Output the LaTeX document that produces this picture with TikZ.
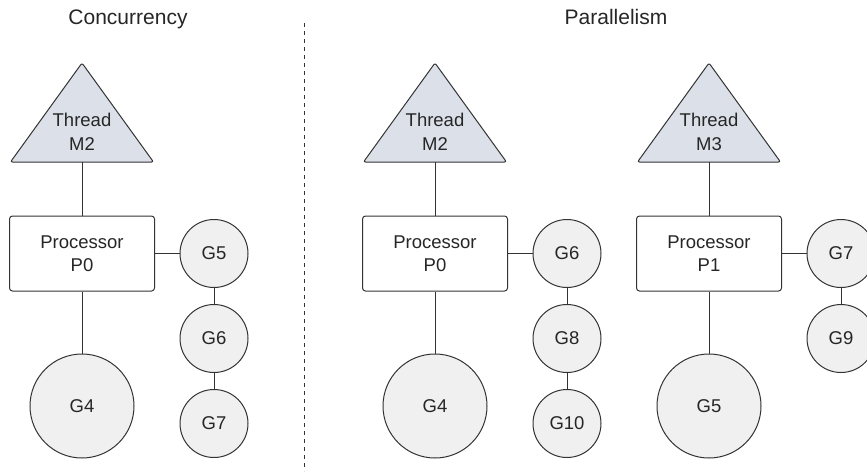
\documentclass[tikz,border=0pt]{standalone}
\usepackage{fontspec}
\setmainfont{Liberation Sans}
\definecolor{thrfill}{HTML}{DCE1E9}
\definecolor{gfill}{HTML}{F0F0F0}
\definecolor{edge}{HTML}{333333}
\tikzset{
  proc/.style={draw=edge, fill=white, rounded corners=3pt, minimum width=145pt, minimum height=75pt, align=center, inner sep=0pt},
  gor/.style={circle, draw=edge, fill=gfill, minimum size=68pt, inner sep=0pt},
  gbig/.style={gor, minimum size=104pt},
  thr/.style={draw=edge, fill=thrfill, rounded corners=2pt, line join=round},
  link/.style={draw=edge},
  title/.style={anchor=base, font=\fontsize{21}{25}\selectfont}
}
\begin{document}
\begin{tikzpicture}[x=1pt,y=-1pt,line width=1pt,text=black!85,font=\fontsize{18.5}{23.5}\selectfont]
\useasboundingbox (0,0) rectangle (867,471);
\clip (0,0) rectangle (867,471);
\node[title] (tconc) at (128,24) {Concurrency};
\node[title] (tpar) at (616,24) {Parallelism};
\draw[edge,dash pattern=on 4pt off 4pt] (304,23) -- (304,471);
\draw[thr] (10.5,162) -- (82,63) -- (153.5,162) -- cycle;
\node[align=center] (m2a) at (82,132) {Thread\\M2};
\coordinate (m2abase) at (82,162);
\draw[thr] (363.5,162) -- (435,63) -- (506.5,162) -- cycle;
\node[align=center] (m2b) at (435,132) {Thread\\M2};
\coordinate (m2bbase) at (435,162);
\draw[thr] (637.5,162) -- (709,63) -- (780.5,162) -- cycle;
\node[align=center] (m3) at (709,132) {Thread\\M3};
\coordinate (m3base) at (709,162);
\node[proc] (p0a) at (82,253.5) {Processor\\P0};
\node[proc] (p0b) at (435,253.5) {Processor\\P0};
\node[proc] (p1) at (709,253.5) {Processor\\P1};
\draw[link] (m2abase) -- (p0a);
\draw[link] (m2bbase) -- (p0b);
\draw[link] (m3base) -- (p1);
\node[gbig] (g4a) at (82,406) {G4};
\node[gor] (g5a) at (214,253.5) {G5};
\node[gor] (g6a) at (214,338.5) {G6};
\node[gor] (g7a) at (214,423.5) {G7};
\draw[link] (p0a) -- (g4a);
\draw[link] (p0a) -- (g5a);
\draw[link] (g5a) -- (g6a);
\draw[link] (g6a) -- (g7a);
\node[gbig] (g4b) at (435,406) {G4};
\node[gor] (g6b) at (567,253.5) {G6};
\node[gor] (g8) at (567,338.5) {G8};
\node[gor] (g10) at (567,423.5) {G10};
\draw[link] (p0b) -- (g4b);
\draw[link] (p0b) -- (g6b);
\draw[link] (g6b) -- (g8);
\draw[link] (g8) -- (g10);
\node[gbig] (g5b) at (709,406) {G5};
\node[gor] (g7b) at (841,253.5) {G7};
\node[gor] (g9) at (841,338.5) {G9};
\draw[link] (p1) -- (g5b);
\draw[link] (p1) -- (g7b);
\draw[link] (g7b) -- (g9);
\end{tikzpicture}
\end{document}
